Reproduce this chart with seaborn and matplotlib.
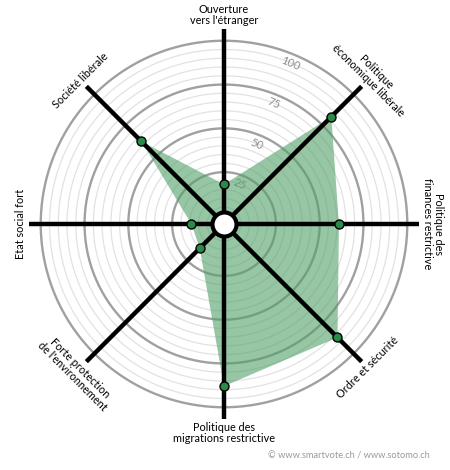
import numpy as np
import matplotlib
matplotlib.use("Agg")
import matplotlib.pyplot as plt
import seaborn as sns

# ---- data ----
categories = [
    "Ouverture\nvers l'étranger",
    "Politique\néconomique libérale",
    "Politique des\nfinances restrictive",
    "Ordre et sécurité",
    "Politique des\nmigrations restrictive",
    "Forte protection\nde l'environnement",
    "Etat social fort",
    "Société libérale",
]
values = [18, 82, 61, 87, 88, 15, 14, 62]
ring_labels = [25, 50, 75, 100]
credit = "© www.smartvote.ch / www.sotomo.ch"

sns.set_theme(style="white")
plt.rcParams["font.family"] = ["Lato", "DejaVu Sans"]

W, H = 450, 470
fig = plt.figure(figsize=(W / 100, H / 100), dpi=100)
cx, cy = 224, 224
scale = 1.752
r0 = 4.6
rmax = 105
R = (rmax + r0) * scale
ax = fig.add_axes([(cx - R) / W, (H - cy - R) / H, 2 * R / W, 2 * R / H],
                  projection="polar")
ax.set_theta_zero_location("N")
ax.set_theta_direction(-1)
ax.set_ylim(0, rmax)
ax.set_rorigin(-r0)
ax.grid(False)
ax.set_xticks([])
ax.set_yticks([])
ax.spines["polar"].set_visible(False)
ax.set_facecolor("none")

n = len(categories)
theta = np.arange(n) * 2 * np.pi / n

# rings
circ = np.linspace(0, 2 * np.pi, 400)
for v in range(5, 101, 5):
    major = v % 25 == 0
    ax.plot(circ, np.full_like(circ, v), color="#a0a0a0" if major else "#e2e2e2",
            lw=1.7 if major else 0.9, zorder=1)

# ring value labels
ang = np.deg2rad(22.5)
for v in ring_labels:
    ax.text(ang, v - 5.3, str(v), color="#8c8c8c", fontsize=8, rotation=-22.5,
            ha="center", va="center", rotation_mode="anchor", zorder=1.5)

# filled area
tt = np.append(theta, theta[0])
vv = np.append(values, values[0])
ax.fill(tt, vv, color="#50a066", alpha=0.6, lw=0, zorder=2)

# spokes
for t in theta:
    ax.plot([t, t], [0, 106.5], color="black", lw=3.2, solid_capstyle="butt",
            zorder=3, clip_on=False)

# points
sns.scatterplot(x=theta, y=values, ax=ax, color="#2a8a4a", edgecolor="black",
                linewidth=1.0, s=42, zorder=4, clip_on=False)
ax.set_xlabel("")
ax.set_ylabel("")

# center hole
ax.scatter([0.5], [0.5], s=300, color="white", edgecolor="black", linewidth=3,
           transform=ax.transAxes, zorder=5, clip_on=False)

# category labels
r_lab = 198 / scale - r0
for i, lab in enumerate(categories):
    a = i * 360 / n
    rot = -a
    flipped = 90 < a < 270
    if flipped:
        rot += 180
    ax.text(theta[i], r_lab, lab, rotation=rot, rotation_mode="anchor",
            ha="center", va="top" if flipped else "bottom",
            multialignment="center", fontsize=7.8, color="black",
            linespacing=1.05, clip_on=False)

fig.text(430 / W, 1 - 456 / H, credit, ha="right", va="center",
         fontsize=6.7, color="#9a9a9a")

fig.savefig("out.png", dpi=100)
